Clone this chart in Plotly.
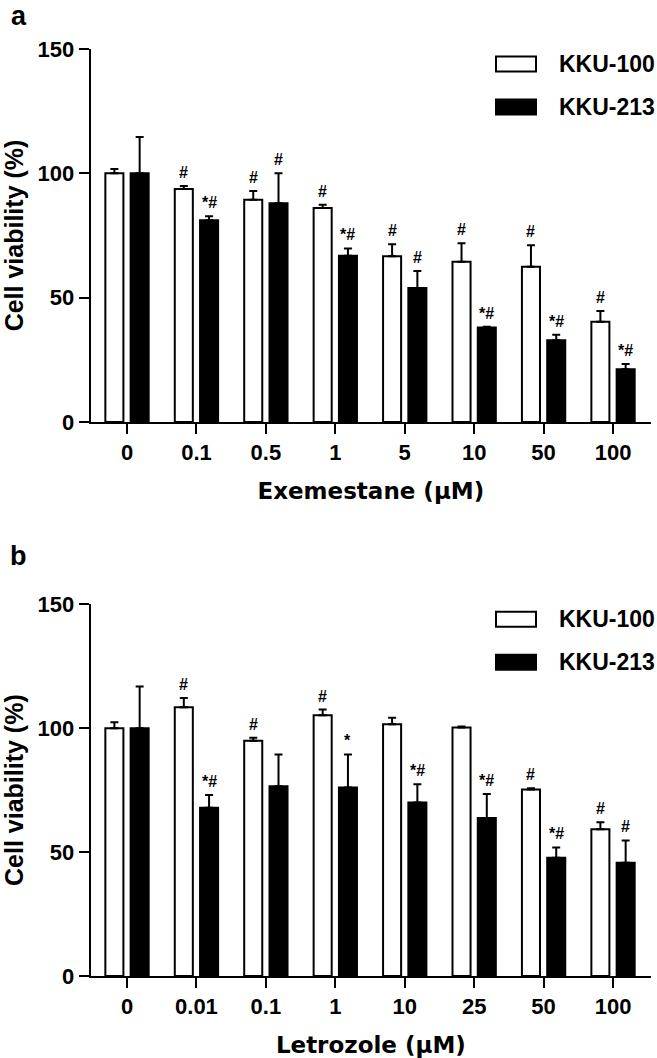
import plotly.graph_objects as go

# ---- data ----
categories_a = ["0", "0.1", "0.5", "1", "5", "10", "50", "100"]
kku100_a = [100, 93.7, 89.4, 86.1, 66.7, 64.4, 62.4, 40.3]
kku100_a_err = [1.7, 1.2, 3.5, 1.3, 4.8, 7.5, 8.7, 4.3]
kku213_a = [100, 81.1, 88.0, 66.9, 53.9, 38.0, 32.9, 21.2]
kku213_a_err = [14.6, 1.6, 12.0, 2.9, 6.8, 0.3, 2.2, 2.1]
sig100_a = ["", "#", "#", "#", "#", "#", "#", "#"]
sig213_a = ["", "*#", "#", "*#", "#", "*#", "*#", "*#"]

categories_b = ["0", "0.01", "0.1", "1", "10", "25", "50", "100"]
kku100_b = [100, 108.5, 94.9, 105.2, 101.6, 100.3, 75.3, 59.2]
kku100_b_err = [2.4, 3.7, 1.2, 2.3, 2.6, 0.4, 0.5, 2.8]
kku213_b = [100, 67.9, 76.6, 76.1, 70.0, 63.8, 47.7, 45.7]
kku213_b_err = [16.8, 5.1, 12.8, 13.3, 7.4, 9.6, 4.2, 9.0]
sig100_b = ["", "#", "#", "#", "", "", "#", "#"]
sig213_b = ["", "*#", "", "*", "*#", "*#", "*#", "#"]

series_names = ["KKU-100", "KKU-213"]
y_ticks = [0, 50, 100, 150]
xtitle_a = "Exemestane (μM)"
xtitle_b = "Letrozole (μM)"
ytitle = "Cell viability (%)"

W, H = 657, 1058
ARIAL = "Arial, Liberation Sans, sans-serif"
DEJAVU = "DejaVu Sans, sans-serif"


def px(x):
    return x / W


def py(y):
    return 1 - y / H


fig = go.Figure()

panels = [
    ("x", "y", categories_a, kku100_a, kku100_a_err, kku213_a, kku213_a_err, sig100_a, sig213_a),
    ("x2", "y2", categories_b, kku100_b, kku100_b_err, kku213_b, kku213_b_err, sig100_b, sig213_b),
]

annotations = []
for xa, ya, cats, v1, e1, v2, e2, s1, s2 in panels:
    for name, vals, errs, fill in [(series_names[0], v1, e1, "white"), (series_names[1], v2, e2, "black")]:
        fig.add_trace(go.Bar(
            x=cats, y=vals, name=name, xaxis=xa, yaxis=ya, showlegend=False,
            marker=dict(color=fill, line=dict(color="black", width=2)),
            error_y=dict(type="data", symmetric=False, array=errs,
                         arrayminus=[0] * len(errs), color="black", thickness=2, width=4),
        ))
    for vals, errs, sigs, shift in [(v1, e1, s1, -12.6), (v2, e2, s2, 12.6)]:
        for i, (v, e, s) in enumerate(zip(vals, errs, sigs)):
            if s:
                annotations.append(dict(
                    x=i, y=v + e, xref=xa, yref=ya, text=s, showarrow=False,
                    xshift=shift, yshift=3, yanchor="bottom",
                    font=dict(family=ARIAL, size=16, color="black", weight="bold"),
                ))

x_dom = [px(90.7), px(651)]
axis_common = dict(
    showline=True, linecolor="black", linewidth=2, ticks="outside",
    ticklen=10, tickwidth=2, tickcolor="black", showgrid=False, zeroline=False,
    automargin=False,
    tickfont=dict(family=ARIAL, size=22, color="black", weight="bold"),
)

fig.update_layout(
    template="none",
    width=W, height=H, margin=dict(l=0, r=0, t=0, b=0, pad=0),
    paper_bgcolor="white", plot_bgcolor="white",
    barmode="group", bargap=0.272, bargroupgap=0.286,
    showlegend=False,
    xaxis=dict(domain=x_dom, anchor="y", type="category", range=[-0.523, 7.547],
               title=dict(text=xtitle_a, standoff=18,
                          font=dict(family=DEJAVU, size=23, color="black", weight="bold")),
               **axis_common),
    yaxis=dict(domain=[py(422), py(49)], anchor="x", range=[0, 150], tickvals=y_ticks,
               title=dict(text=ytitle, standoff=12,
                          font=dict(family=ARIAL, size=25, color="black", weight="bold")),
               **axis_common),
    xaxis2=dict(domain=x_dom, anchor="y2", type="category", range=[-0.523, 7.547],
                title=dict(text=xtitle_b, standoff=20,
                           font=dict(family=DEJAVU, size=23, color="black", weight="bold")),
                **axis_common),
    yaxis2=dict(domain=[py(976), py(604.3)], anchor="x2", range=[0, 150], tickvals=y_ticks,
                title=dict(text=ytitle, standoff=12,
                           font=dict(family=ARIAL, size=25, color="black", weight="bold")),
                **axis_common),
)

# legends (drawn as shapes + text) and panel labels
shapes = []
for top in [49, 604.3]:
    for i, (name, fill) in enumerate(zip(series_names, ["white", "black"])):
        cy = top + 15 + 43 * i
        shapes.append(dict(type="rect", xref="paper", yref="paper",
                           x0=px(496), x1=px(536), y0=py(cy - 7.5), y1=py(cy + 7.5),
                           fillcolor=fill, line=dict(color="black", width=2)))
        annotations.append(dict(x=px(557), y=py(cy), xref="paper", yref="paper",
                                text=name, showarrow=False, xanchor="left", yanchor="middle",
                                font=dict(family=ARIAL, size=23, color="black", weight="bold")))

for label, y in [("a", 0), ("b", 540)]:
    annotations.append(dict(x=px(18.5), y=py(y), xref="paper", yref="paper", text=label,
                            showarrow=False, xanchor="center", yanchor="top", borderpad=0,
                            font=dict(family=ARIAL, size=27, color="black", weight="bold")))

fig.update_layout(shapes=shapes, annotations=annotations)
fig.write_html(
    "out.html",
    config={"displayModeBar": False},
    post_script="document.body.style.margin='0';document.body.style.overflow='hidden';",
)
